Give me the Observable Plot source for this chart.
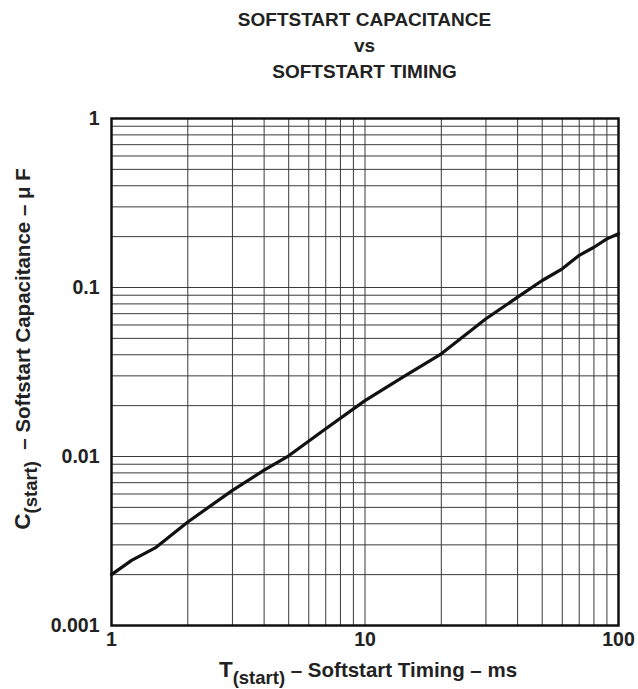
<!DOCTYPE html>
<html>
<head>
<meta charset="utf-8">
<script src="https://cdn.jsdelivr.net/npm/d3@7"></script>
<script src="https://cdn.jsdelivr.net/npm/@observablehq/plot@0.6"></script>
<style>
  html, body { margin: 0; padding: 0; background: #fff; }
  #title { width: 638px; height: 90px; box-sizing: border-box; padding: 7px 20px 0 111px;
    text-align: center; font: bold 19px "Liberation Sans", Arial, sans-serif; line-height: 26px; color: #222; }
  svg { display: block; }
</style>
</head>
<body>
<div id="title">SOFTSTART CAPACITANCE<br>vs<br>SOFTSTART TIMING</div>
<div id="chart"></div>
<script>
// Data (T in ms, C in µF)
const timing = [1, 1.2, 1.5, 2, 3, 4, 5, 7, 10, 14, 20, 30, 40, 50, 60, 70, 80, 90, 100];
const capacitance = [0.002, 0.00243, 0.0029, 0.0041, 0.0063, 0.0083, 0.0101, 0.0146, 0.0214, 0.0293, 0.0405, 0.0653, 0.0877, 0.11, 0.129, 0.155, 0.173, 0.194, 0.208];

const xTickValues = [1, 10, 100];
const xTickLabels = ["1", "10", "100"];
const yTickValues = [0.001, 0.01, 0.1, 1];
const yTickLabels = ["0.001", "0.01", "0.1", "1"];

const xGrid = [2, 3, 4, 5, 6, 7, 8, 9, 10, 20, 30, 40, 50, 60, 70, 80, 90];
const yGrid = [0.002, 0.003, 0.004, 0.005, 0.006, 0.007, 0.008, 0.009, 0.01,
               0.02, 0.03, 0.04, 0.05, 0.06, 0.07, 0.08, 0.09, 0.1,
               0.2, 0.3, 0.4, 0.5, 0.6, 0.7, 0.8, 0.9];

const curve = timing.map((t, i) => ({t, c: capacitance[i]}));
const font = '"Liberation Sans", Arial, sans-serif';

const chart = Plot.plot({
  width: 638,
  height: 599,
  marginTop: 28,
  marginBottom: 64,
  marginLeft: 111,
  marginRight: 20,
  style: {fontFamily: font, background: "#fff"},
  x: {type: "log", domain: [1, 100], axis: null},
  y: {type: "log", domain: [0.001, 1], axis: null},
  marks: [
    Plot.ruleX(xGrid, {x: d => d, stroke: "#3a3a3a", strokeWidth: 1}),
    Plot.ruleY(yGrid, {y: d => d, stroke: "#3a3a3a", strokeWidth: 1}),
    Plot.line(curve, {x: "t", y: "c", stroke: "#111", strokeWidth: 3.2, strokeLinejoin: "round"}),
    Plot.frame({stroke: "#111", strokeWidth: 2.5}),
    Plot.text(xTickValues, {x: d => d, text: (d, i) => xTickLabels[i], frameAnchor: "bottom", dy: 20,
      fontSize: 19.5, fontWeight: "bold", fill: "#222"}),
    Plot.text(yTickValues, {y: d => d, text: (d, i) => yTickLabels[i], frameAnchor: "left", dx: -12,
      textAnchor: "end", fontSize: 19.5, fontWeight: "bold", fill: "#222"})
  ]
});

const svg = d3.select(chart);
// X axis label
const xl = svg.append("text")
  .attr("x", 368).attr("y", 587)
  .attr("text-anchor", "middle")
  .attr("font-family", font).attr("font-weight", "bold").attr("fill", "#222");
xl.append("tspan").attr("font-size", 22.5).text("T");
xl.append("tspan").attr("font-size", 18.5).attr("dy", 7).text("(start)");
xl.append("tspan").attr("font-size", 20.5).attr("dy", -7).text(" – Softstart Timing – ms");

// Y axis label
const yl = svg.append("text")
  .attr("transform", "translate(30,259) rotate(-90)")
  .attr("text-anchor", "middle")
  .attr("font-family", font).attr("font-weight", "bold").attr("fill", "#222");
yl.append("tspan").attr("font-size", 22.5).text("C");
yl.append("tspan").attr("font-size", 18.5).attr("dy", 7).text("(start)");
yl.append("tspan").attr("font-size", 20.5).attr("dy", -7).text("  – Softstart Capacitance – μ F");

document.getElementById("chart").appendChild(chart);
</script>
</body>
</html>
